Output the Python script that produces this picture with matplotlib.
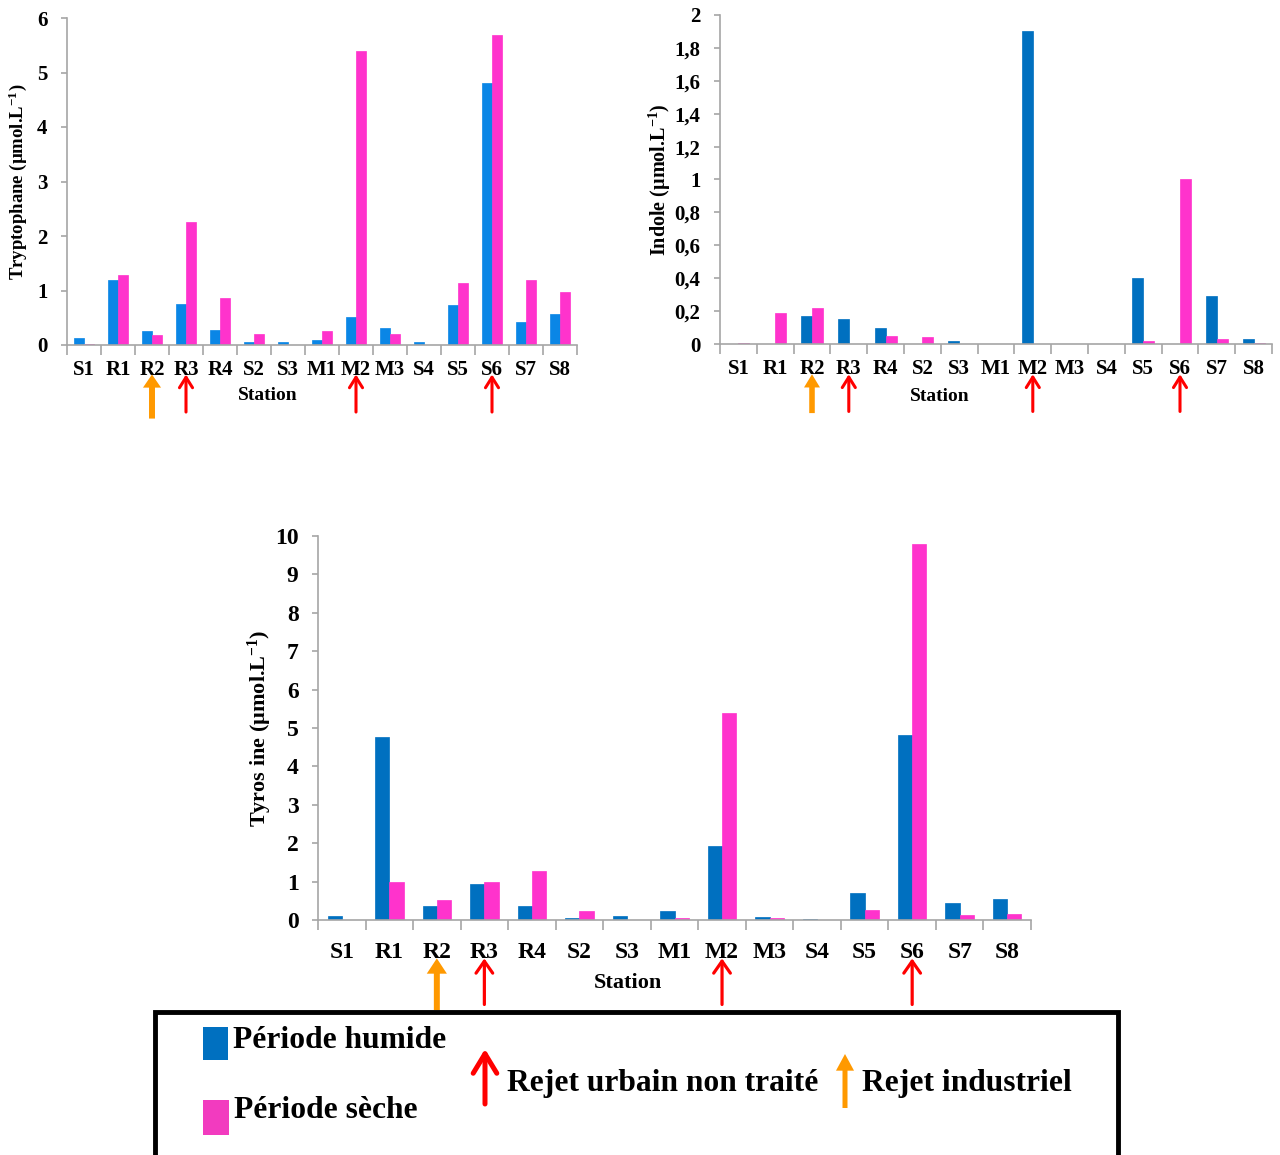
import matplotlib
matplotlib.use("Agg")
import matplotlib.pyplot as plt
import numpy as np
from matplotlib.patches import Rectangle, FancyArrowPatch

plt.rcParams['font.family'] = ['Liberation Serif', 'DejaVu Serif']
plt.rcParams['font.weight'] = 'bold'
plt.rcParams['mathtext.fontset'] = 'custom'
plt.rcParams['mathtext.rm'] = 'Liberation Serif:bold'
plt.rcParams['mathtext.it'] = 'Liberation Serif:bold'
plt.rcParams['mathtext.bf'] = 'Liberation Serif:bold'

stations = ["S1", "R1", "R2", "R3", "R4", "S2", "S3", "M1", "M2", "M3", "S4", "S5", "S6", "S7", "S8"]

trp_humide = [0.13, 1.19, 0.26, 0.75, 0.28, 0.05, 0.06, 0.09, 0.52, 0.32, 0.06, 0.73, 4.80, 0.43, 0.56]
trp_seche = [0.02, 1.29, 0.18, 2.25, 0.87, 0.20, 0.0, 0.26, 5.40, 0.20, 0.0, 1.14, 5.68, 1.19, 0.98]

ind_humide = [0.0, 0.0, 0.17, 0.15, 0.10, 0.0, 0.02, 0.0, 1.90, 0.0, 0.0, 0.40, 0.0, 0.29, 0.03]
ind_seche = [0.006, 0.19, 0.22, 0.0, 0.05, 0.04, 0.0, 0.0, 0.0, 0.0, 0.0, 0.02, 1.00, 0.03, 0.008]

tyr_humide = [0.10, 4.77, 0.37, 0.94, 0.37, 0.06, 0.10, 0.23, 1.94, 0.07, 0.03, 0.71, 4.82, 0.43, 0.54]
tyr_seche = [0.0, 1.00, 0.51, 1.00, 1.28, 0.23, 0.0, 0.04, 5.38, 0.06, 0.0, 0.26, 9.78, 0.12, 0.16]

urban_stations = ["R3", "M2", "S6"]
industrial_stations = ["R2"]

trp_yticks = [0, 1, 2, 3, 4, 5, 6]
ind_yticks = [0, 0.2, 0.4, 0.6, 0.8, 1.0, 1.2, 1.4, 1.6, 1.8, 2.0]
ind_yticklabels = ["0", "0,2", "0,4", "0,6", "0,8", "1", "1,2", "1,4", "1,6", "1,8", "2"]
tyr_yticks = [0, 1, 2, 3, 4, 5, 6, 7, 8, 9, 10]

PINK = "#FF33CC"
BLUE_LIGHT = "#0A86E6"
BLUE_DARK = "#0070C0"
ORANGE = "#FF9900"
RED = "#FF0000"
GRAY = "#A6A6A6"

W, H = 1280, 1155
fig = plt.figure(figsize=(W / 100, H / 100), dpi=100)


def frac_rect(l, t, r, b):
    return [l / W, 1 - b / H, (r - l) / W, (b - t) / H]


def draw_chart(rect, hum, sec, blue, yticks, yticklabels, ylabel, ymax,
               fs, ylfs, xpad, ylpad, station_xy, arrow_tip, arrow_tail, orange_tail,
               red_style, red_lw, orange_style):
    ax = fig.add_axes(rect)
    x = np.arange(len(stations))
    w = 0.3
    ax.bar(x - w / 2, hum, width=w, color=blue, edgecolor=blue, linewidth=0.5)
    ax.bar(x + w / 2, sec, width=w, color=PINK, edgecolor=PINK, linewidth=0.5)
    ax.set_xlim(-0.5, len(stations) - 0.5)
    ax.set_ylim(0, ymax)
    for s in ["top", "right"]:
        ax.spines[s].set_visible(False)
    for s in ["left", "bottom"]:
        ax.spines[s].set_color(GRAY)
        ax.spines[s].set_linewidth(1.2)
    ax.set_xticks(x)
    ax.set_xticklabels(stations, fontsize=fs, fontweight='bold')
    ax.set_xticks(np.arange(-0.5, len(stations), 1), minor=True)
    ax.tick_params(axis='x', which='major', length=0, pad=xpad)
    ax.tick_params(axis='x', which='minor', length=7, color=GRAY, width=1.2)
    ax.set_yticks(yticks)
    ax.set_yticklabels(yticklabels, fontsize=fs, fontweight='bold')
    ax.tick_params(axis='y', length=4, color=GRAY, width=1.2, pad=10)
    ax.set_ylabel(ylabel, fontsize=ylfs, fontweight='bold', labelpad=ylpad)
    ax.text(station_xy[0], station_xy[1], "Station", transform=ax.transAxes,
            ha='center', va='center', fontsize=fs - 1, fontweight='bold')
    coords = ('data', 'axes fraction')
    for st in urban_stations:
        i = stations.index(st)
        ax.annotate("", xy=(i, arrow_tip), xycoords=coords,
                    xytext=(i, arrow_tail), textcoords=coords,
                    arrowprops=dict(arrowstyle=red_style, color=RED, lw=red_lw,
                                    shrinkA=0, shrinkB=0, mutation_scale=10,
                                    capstyle='round', joinstyle='round'),
                    annotation_clip=False)
    for st in industrial_stations:
        i = stations.index(st)
        ax.annotate("", xy=(i, arrow_tip), xycoords=coords,
                    xytext=(i, orange_tail), textcoords=coords,
                    arrowprops=dict(arrowstyle=orange_style, color=ORANGE,
                                    lw=0, shrinkA=0, shrinkB=0, mutation_scale=10),
                    annotation_clip=False)
    return ax


draw_chart(frac_rect(67, 18, 577, 345), trp_humide, trp_seche, BLUE_LIGHT,
           trp_yticks, [str(v) for v in trp_yticks],
           r"Tryptophane (µmol.L$^{-1}$)", 6, 15, 13.5, 11, 6,
           (0.394, -0.153), -0.09, -0.205, -0.225,
           "->,head_length=0.75,head_width=0.47", 2.2,
           "simple,head_length=0.95,head_width=1.3,tail_width=0.43")

draw_chart(frac_rect(720, 15, 1272, 344), ind_humide, ind_seche, BLUE_DARK,
           ind_yticks, ind_yticklabels,
           r"Indole (µmol.L$^{-1}$)", 2, 15, 14.5, 11, 1,
           (0.399, -0.161), -0.092, -0.205, -0.21,
           "->,head_length=0.75,head_width=0.47", 2.2,
           "simple,head_length=0.95,head_width=1.15,tail_width=0.4")

draw_chart(frac_rect(318, 536, 1031, 920), tyr_humide, tyr_seche, BLUE_DARK,
           tyr_yticks, [str(v) for v in tyr_yticks],
           r"Tyros ine (µmol.L$^{-1}$)", 10, 17, 16, 16, 1,
           (0.435, -0.164), -0.1, -0.22, -0.235,
           "->,head_length=0.86,head_width=0.6", 2.3,
           "simple,head_length=1.1,head_width=1.45,tail_width=0.43")

# Legend box
fig.add_artist(Rectangle((155 / W, -0.02), (1118 - 155) / W, (1155 - 1012) / H + 0.02,
                         transform=fig.transFigure, fill=False, edgecolor='black',
                         linewidth=3.5))
fig.add_artist(Rectangle((203 / W, 1 - 1060 / H), 25 / W, 33 / H,
                         transform=fig.transFigure, facecolor=BLUE_DARK, edgecolor='none'))
fig.add_artist(Rectangle((203 / W, 1 - 1135 / H), 26 / W, 35 / H,
                         transform=fig.transFigure, facecolor="#F23BBF", edgecolor='none'))
fig.text(233 / W, 1 - 1041 / H, "Période humide", fontsize=22.7, fontweight='bold',
         va='center', ha='left')
fig.text(234 / W, 1 - 1111 / H, "Période sèche", fontsize=22.7, fontweight='bold',
         va='center', ha='left')
fig.add_artist(FancyArrowPatch((485 / W, 1 - 1104 / H), (485 / W, 1 - 1049 / H),
                               transform=fig.transFigure,
                               arrowstyle="->,head_length=1.4,head_width=0.85",
                               mutation_scale=10, capstyle='round', joinstyle='round',
                               color=RED, lw=3.6, shrinkA=0, shrinkB=0))
fig.text(507 / W, 1 - 1083 / H, "Rejet urbain non traité", fontsize=22.7,
         fontweight='bold', va='center', ha='left')
fig.add_artist(FancyArrowPatch((845 / W, 1 - 1108 / H), (845 / W, 1 - 1054 / H),
                               transform=fig.transFigure,
                               arrowstyle="simple,head_length=1.2,head_width=1.3,tail_width=0.36",
                               mutation_scale=10,
                               color=ORANGE, lw=0, shrinkA=0, shrinkB=0))
fig.text(862 / W, 1 - 1083 / H, "Rejet industriel", fontsize=22.7,
         fontweight='bold', va='center', ha='left')

fig.savefig("out.png", dpi=100)
